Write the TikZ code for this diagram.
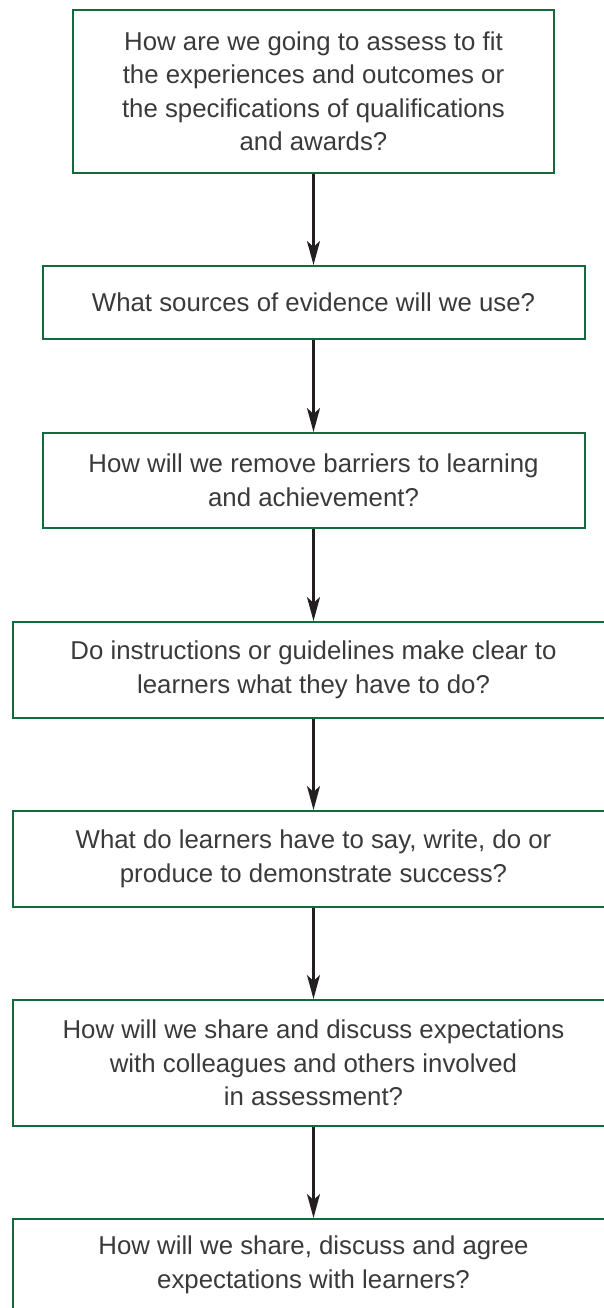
\documentclass[tikz,border=0pt]{standalone}
\usepackage{fontspec}
\setmainfont{Liberation Sans}
\usetikzlibrary{arrows.meta}
\definecolor{boxgreen}{HTML}{126B3C}
\definecolor{txtgray}{HTML}{3A3A3A}
\definecolor{arrowblack}{HTML}{231F20}
\tikzset{
  qbox/.style={draw=boxgreen, line width=2pt, inner sep=0pt, align=center,
    text=txtgray, font=\fontsize{25.8}{33.5}\selectfont},
  flow/.style={draw=arrowblack, line width=2.2pt,
    -{Stealth[length=24pt, width=13pt, inset=6pt]}}
}
\begin{document}
\begin{tikzpicture}[x=1pt,y=-1pt]
\useasboundingbox (0,0) rectangle (603,1308);
\node[qbox, minimum width=481pt, minimum height=163pt] (b1) at (313.5,91.5)
  {How are we going to assess to fit\\the experiences and outcomes or\\the specifications of qualifications\\and awards?};
\node[qbox, minimum width=542pt, minimum height=73pt] (b2) at (313.5,302.5)
  {What sources of evidence will we use?};
\node[qbox, minimum width=542pt, minimum height=95pt] (b3) at (313.5,480.5)
  {How will we remove barriers to learning\\and achievement?};
\node[qbox, minimum width=602pt, minimum height=96pt] (b4) at (313.5,670)
  {Do instructions or guidelines make clear to\\learners what they have to do?};
\node[qbox, minimum width=602pt, minimum height=96pt] (b5) at (313.5,859)
  {What do learners have to say, write, do or\\produce to demonstrate success?};
\node[qbox, minimum width=602pt, minimum height=126pt] (b6) at (313.5,1063)
  {How will we share and discuss expectations\\with colleagues and others involved\\in assessment?};
\node[qbox, minimum width=602pt, minimum height=92pt] (b7) at (313.5,1265)
  {How will we share, discuss and agree\\expectations with learners?};
\draw[flow] (b1.south) -- (b2.north);
\draw[flow] (b2.south) -- (b3.north);
\draw[flow] (b3.south) -- (b4.north);
\draw[flow] (b4.south) -- (b5.north);
\draw[flow] (b5.south) -- (b6.north);
\draw[flow] (b6.south) -- (b7.north);
\end{tikzpicture}
\end{document}
